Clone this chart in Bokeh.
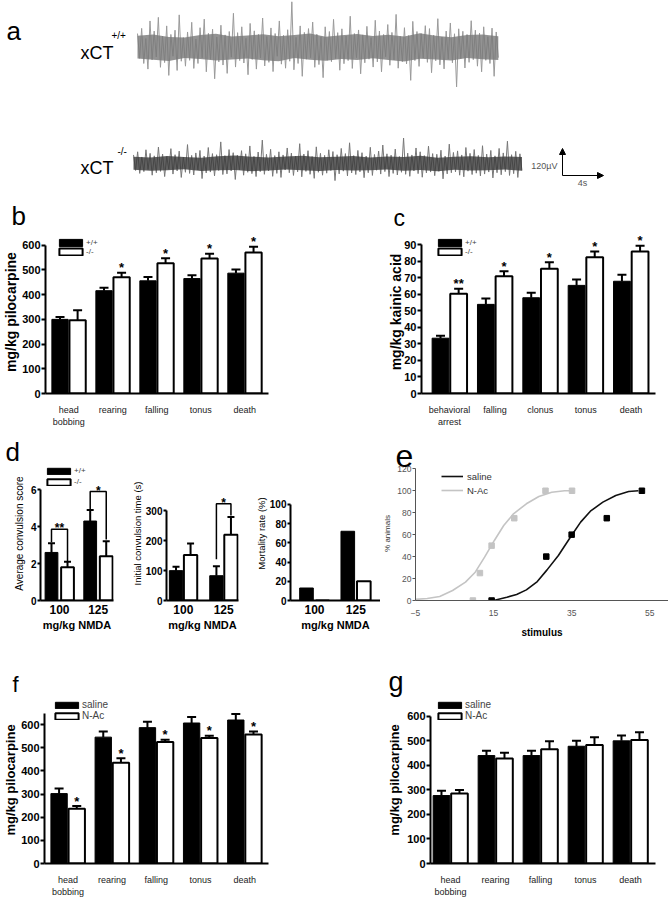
import math
from bokeh.plotting import figure
from bokeh.models import (Range1d, FixedTicker, Legend, LegendItem, Whisker, Title,
                          TeeHead, ColumnDataSource, Arrow, NormalHead)
from bokeh.layouts import column, row
from bokeh.embed import file_html
from bokeh.resources import INLINE
from bokeh.core.properties import value

FONT = "Liberation Sans"

# ---------------------------------------------------------------- data
# (a) EEG traces: successive deflections (µV) and the dense core band (µV)
a_wt_peaks = [62, -48, 85, -71, 40, -96, 118, -55, 73, -42, 134, -88, 51, -67, 96, -124, 58,
              -39, 77, -102, 145, -61, 44, -83, 69, -57, 112, -93, 38, -71, 88, -46, 126, -108,
              63, -52, 81, -139, 47, -64, 99, -78, 56, -115, 71, -43, 152, -87, 66, -58, 92,
              -69, 41, -121, 107, -53, 74, -96, 58, -47, 131, -82, 49, -66, 87, -107, 62, -39,
              118, -74, 54, -92, 79, -61, 203, -99, 45, -71, 96, -128, 67, -52, 84, -45, 113,
              -88, 59, -76, 48, -134, 92, -57, 71, -63, 125, -49, 66, -101, 83, -72, 51, -58,
              139, -93, 62, -45, 78, -117, 56, -68, 94, -52, 44, -87, 121, -64, 73, -108, 58,
              -41, 102, -79, 67, -55, 147, -92, 49, -63, 88, -73, 53, -146, 116, -58, 71, -84,
              62, -47, 97, -66, 84, -112, 55, -59, 128, -77, 46, -95, 73, -52, 109, -68, 61,
              -175, 83, -49, 72, -91, 58, -66, 119, -54, 77, -83, 64, -108, 92, -57, 48, -71,
              86, -128, 69, -45]
a_wt_core_hi = [52, 58, 47, 44, 56, 61, 49, 53, 59, 50, 55, 62, 48, 54, 60, 51, 57, 49, 63, 52,
                46, 55, 58, 50]
a_wt_core_lo = [-49, -54, -60, -47, -51, -58, -53, -49, -57, -61, -47, -54, -59, -51, -56, -48,
                -55, -62, -50, -53, -58, -47, -52, -55]
a_wt_seconds = 35.2
a_ko_peaks = [38, -31, 52, -44, 29, -36, 61, -27, 45, -52, 34, -41, 73, -35, 42, -58, 31, -26,
              66, -47, 39, -33, 55, -62, 28, -39, 84, -44, 36, -51, 47, -29, 58, -67, 33, -42,
              71, -38, 44, -55, 39, -31, 96, -49, 35, -46, 62, -33, 48, -71, 37, -28, 57, -52,
              43, -39, 78, -45, 32, -58, 51, -36, 104, -48, 41, -33, 63, -57, 35, -44, 52, -62,
              38, -29, 69, -41, 46, -53, 33, -37, 88, -59, 42, -35, 57, -48, 31, -66, 74, -39,
              45, -52, 36, -43, 61, -31, 53, -76, 39, -46, 67, -34, 44, -55, 92, -42, 35, -49,
              58, -37, 48, -63, 33, -41, 72, -53, 40, -30, 55, -47, 82, -36, 43, -58, 37, -44,
              64, -51, 31, -39, 113, -48, 46, -57, 38, -33, 69, -45, 52, -61, 35, -42, 77, -38,
              44, -54, 41, -35, 59, -68, 33, -46, 86, -41, 49, -37, 56, -52, 38, -59, 71, -34,
              45, -49, 62, -43, 36, -55, 79, -47, 42, -38, 58, -64, 34, -41, 67, -50, 47, -36,
              99, -53, 39, -45, 54, -62, 43, -31]
a_ko_core_hi = [30, 27, 33, 29, 25, 32, 35, 30, 27, 31, 34, 28, 30, 33, 27, 31, 29, 34, 26, 30,
                32, 28, 31, 29]
a_ko_core_lo = [-28, -32, -30, -26, -33, -30, -29, -34, -31, -27, -30, -33, -29, -31, -30, -27,
                -32, -29, -34, -28, -31, -30, -27, -32]
a_ko_seconds = 37.9
a_scale_uv = 120
a_scale_s = 4

# (b) pilocarpine, xCT +/+ vs -/-
b_categories = ["head\nbobbing", "rearing", "falling", "tonus", "death"]
b_wt = [300, 416, 456, 465, 487]
b_wt_err = [310, 428, 471, 479, 502]
b_ko = [296, 470, 527, 546, 571]
b_ko_err = [337, 489, 547, 566, 594]
b_ko_sig = ["", "*", "*", "*", "*"]
b_yticks = [0, 100, 200, 300, 400, 500, 600]

# (c) kainic acid
c_categories = ["behavioral\narrest", "falling", "clonus", "tonus", "death"]
c_wt = [33.5, 54, 58, 65.5, 68]
c_wt_err = [35, 57.5, 61, 69, 72]
c_ko = [60.5, 71, 75.5, 82.5, 86]
c_ko_err = [63.5, 74, 79.5, 86, 89.5]
c_ko_sig = ["**", "*", "*", "*", "*"]
c_yticks = [0, 10, 20, 30, 40, 50, 60, 70, 80, 90]

# (d) NMDA
d_doses = ["100", "125"]
d_score_wt = [2.6, 4.3]
d_score_wt_err = [3.1, 4.9]
d_score_ko = [1.8, 2.4]
d_score_ko_err = [2.1, 3.2]
d_score_brackets = [(1, "**", 3.85, 3.15, 2.1), (2, "*", 5.9, 4.95, 3.3)]
d_score_yticks = [0, 2, 4, 6]
d_time_wt = [100, 83]
d_time_wt_err = [113, 115]
d_time_ko = [152, 220]
d_time_ko_err = [191, 280]
d_time_brackets = [(2, "*", 324, 138, 285)]
d_time_yticks = [0, 100, 200, 300]
d_mort_wt = [13, 72]
d_mort_ko = [0, 20]
d_mort_yticks = [0, 20, 40, 60, 80, 100]

# (e) cumulative % animals vs stimulus
e_saline_x = [14.5, 28.5, 35, 44, 53]
e_saline_y = [0, 40, 60, 75, 100]
e_nac_x = [9.7, 11.5, 14.5, 20.3, 28.3, 35.1]
e_nac_y = [0, 25, 50, 75, 100, 100]
e_saline_fit_x = [15.0, 18.4, 20.9, 23.4, 26.2, 28.7, 31.6, 34.8, 37.3, 39.8, 43.0, 46.3, 49.6,
                  52.1]
e_saline_fit_y = [0, 3, 5.5, 9.7, 17.3, 27.9, 41, 58.3, 71.4, 81.4, 89.6, 95.7, 99.3, 100]
e_nac_fit_x = [-5.0, -2.0, 1.2, 4.5, 7.8, 10.3, 12.7, 15.2, 17.6, 20.1, 23.4, 26.6, 29.9, 33.2,
               35.1]
e_nac_fit_y = [1.0, 1.8, 3.6, 9.1, 16.7, 25.8, 39.5, 54.7, 68.3, 79, 88.1, 94.8, 98.7, 100, 100]
e_xticks = [-5, 15, 35, 55]
e_yticks = [0, 20, 40, 60, 80, 100, 120]

# (f) pilocarpine, saline vs N-Ac (xCT +/+)
f_saline = [302, 546, 587, 607, 620]
f_saline_err = [324, 570, 612, 633, 646]
f_nac = [237, 435, 525, 542, 557]
f_nac_err = [248, 455, 535, 552, 570]
f_nac_sig = ["*", "*", "*", "*", "*"]
f_yticks = [0, 100, 200, 300, 400, 500, 600]

# (g) pilocarpine, saline vs N-Ac (xCT -/-)
g_saline = [277, 440, 440, 478, 500]
g_saline_err = [297, 460, 460, 500, 522]
g_nac = [285, 428, 466, 483, 503]
g_nac_err = [300, 452, 498, 515, 535]
g_yticks = [0, 100, 200, 300, 400, 500, 600]


# ---------------------------------------------------------------- helpers
def make_fig(box, frame_x, frame_top, frame_bottom, x_range, px_per_unit):
    x0, y0, x1, y1 = box
    fl, fr = frame_x
    p = figure(width=x1 - x0, height=y1 - y0,
               x_range=Range1d(*x_range),
               y_range=Range1d(0, (frame_bottom - frame_top) / px_per_unit),
               output_backend="svg", toolbar_location=None, title=None,
               min_border_left=fl - x0, min_border_right=x1 - fr,
               min_border_top=frame_top - y0, min_border_bottom=y1 - frame_bottom)
    p.outline_line_color = None
    p.grid.visible = False
    p.background_fill_color = "white"
    p.border_fill_color = "white"
    return p


def panel_letter(p, letter, size, offset):
    p.title = Title(text=letter, align="left", offset=offset, vertical_align="bottom",
                    standoff=0, text_font=FONT, text_font_size=f"{size}px",
                    text_font_style="normal", text_color="black")


def style_axis(ax, size, bold, color="black", width=2, tick_out=5, standoff=2):
    ax.axis_line_width = width
    ax.axis_line_color = color
    ax.major_tick_line_width = width
    ax.major_tick_line_color = color
    ax.major_tick_out = tick_out
    ax.major_tick_in = 0
    ax.minor_tick_line_color = None
    ax.major_label_text_font = FONT
    ax.major_label_text_font_size = f"{size}px"
    ax.major_label_text_font_style = "bold" if bold else "normal"
    ax.major_label_text_color = color
    ax.major_label_standoff = standoff


def axis_title(ax, text, size, bold, standoff, color="black"):
    ax.axis_label = text
    ax.axis_label_text_font = FONT
    ax.axis_label_text_font_size = f"{size}px"
    ax.axis_label_text_font_style = "bold" if bold else "normal"
    ax.axis_label_text_color = color
    ax.axis_label_standoff = standoff


def bar_panel(box, frame_x, ft, fb, xr, k, cats, a_vals, a_err, b_vals, b_err, sig,
              names, yticks, ybound, bw, off, cap, ytick_size, ytick_out, cat_size, cat_bold,
              cat_standoff, legend_at=None, legend_font=8, legend_gh=9, legend_lh=9,
              star_size=13):
    p = make_fig(box, frame_x, ft, fb, xr, k)
    xs = list(range(1, len(cats) + 1))
    xa = [x - off for x in xs]
    xb = [x + off for x in xs]
    ra = p.vbar(x=xa, top=a_vals, width=bw, bottom=0, fill_color="black",
                line_color="black", line_width=1)
    rb = p.vbar(x=xb, top=b_vals, width=bw, bottom=0, fill_color="white",
                line_color="black", line_width=2)
    if a_err is not None:
        for xv, lo, hi in ((xa, a_vals, a_err), (xb, b_vals, b_err)):
            src = ColumnDataSource(dict(base=xv, lower=lo, upper=hi))
            p.add_layout(Whisker(source=src, base="base", lower="lower", upper="upper",
                                 line_width=2, line_color="black",
                                 upper_head=TeeHead(size=cap, line_width=2, line_color="black"),
                                 lower_head=None))
    if sig is not None:
        p.text(x=xb, y=[e + 5 / k for e in b_err], text=sig, text_align="center",
               text_baseline="alphabetic", text_font=value(FONT), text_font_style="bold",
               text_font_size=f"{star_size}px", text_color="black")
    yax = p.yaxis[0]
    yax.ticker = FixedTicker(ticks=yticks)
    yax.bounds = ybound
    style_axis(yax, ytick_size, True, tick_out=ytick_out, standoff=1)
    xax = p.xaxis[0]
    xax.ticker = FixedTicker(ticks=xs)
    xax.major_label_overrides = {x: c for x, c in zip(xs, cats)}
    style_axis(xax, cat_size, cat_bold, tick_out=0, standoff=cat_standoff)
    xax.major_tick_line_color = None
    if not cat_bold:
        xax.major_label_text_color = "#222222"
    if legend_at is not None:
        leg = Legend(items=[LegendItem(label=names[0], renderers=[ra]),
                            LegendItem(label=names[1], renderers=[rb])],
                     location=legend_at, orientation="vertical",
                     glyph_width=29, glyph_height=legend_gh, label_height=legend_lh,
                     label_width=10, label_standoff=1, spacing=0, padding=0, margin=0,
                     border_line_color=None, background_fill_alpha=0,
                     label_text_font=FONT, label_text_font_size=f"{legend_font}px",
                     label_text_baseline="middle")
        p.add_layout(leg)
    return p, xa, xb


def brackets(p, k, xa, xb, items, size):
    for g, lab, yb, yl, yr in items:
        x0, x1 = xa[g - 1], xb[g - 1]
        p.line(x=[x0, x0, x1, x1], y=[yl, yb, yb, yr], line_color="black", line_width=1.5)
        p.text(x=[(x0 + x1) / 2], y=[yb + 1 / k], text=[lab], text_align="center",
               text_baseline="alphabetic", text_font=value(FONT), text_font_style="bold",
               text_font_size=f"{size}px", text_color="black")


# ---------------------------------------------------------------- panel a
PX_PER_S = 10.25
UV_PER_PX = 4.444
A_W, A_H = 668, 198
pa = figure(width=A_W, height=A_H, x_range=Range1d(-133 / PX_PER_S, (A_W - 133) / PX_PER_S),
            y_range=Range1d(0, A_H * UV_PER_PX), x_axis_type=None, y_axis_type=None,
            output_backend="svg", toolbar_location=None, title=None, min_border=0)
pa.outline_line_color = None
pa.grid.visible = False


def t_at(px):
    return (px - 133) / PX_PER_S


def uv_at(py):
    return (A_H - py) * UV_PER_PX


def trace(peaks, hi, lo, seconds, t0, base, spike_col, core_col):
    n = len(peaks)
    tx = [t0 + i * seconds / (n - 1) for i in range(n)]
    pa.line(x=tx, y=[base + v for v in peaks], line_color=spike_col, line_width=1.0)
    m = len(hi)
    tc = [t0 + i * seconds / (m - 1) for i in range(m)]
    pa.varea(x=tc, y1=[base + v for v in lo], y2=[base + v for v in hi],
             fill_color=core_col, fill_alpha=0.8)


trace(a_wt_peaks, a_wt_core_hi, a_wt_core_lo, a_wt_seconds, t_at(137), uv_at(47),
      "#9a9a9a", "#787878")
trace(a_ko_peaks, a_ko_core_hi, a_ko_core_lo, a_ko_seconds, t_at(133), uv_at(163),
      "#777777", "#3a3a3a")


def atext(px, py, txt, size, color="black", align="left", baseline="alphabetic"):
    pa.text(x=[t_at(px)], y=[uv_at(py)], text=[txt], text_font=value(FONT),
            text_font_size=f"{size}px", text_color=color, text_align=align,
            text_baseline=baseline)


atext(6, 30, "a", 26)
atext(80, 52, "xCT", 18)
atext(111, 35, "+/+", 10)
atext(80, 167, "xCT", 18)
atext(117, 151, "-/-", 10)
bar_t = t_at(562)
bar_uv = uv_at(175)
pa.add_layout(Arrow(end=NormalHead(size=6, fill_color="black", line_color="black"),
                    x_start=bar_t, y_start=bar_uv, x_end=bar_t, y_end=bar_uv + a_scale_uv,
                    line_width=1, line_color="black"))
pa.add_layout(Arrow(end=NormalHead(size=6, fill_color="black", line_color="black"),
                    x_start=bar_t, y_start=bar_uv, x_end=bar_t + a_scale_s, y_end=bar_uv,
                    line_width=1, line_color="black"))
atext(557, 165, f"{a_scale_uv}µV", 9, color="#555555", align="right", baseline="middle")
atext(582, 182, f"{a_scale_s}s", 9, color="#555555", align="center", baseline="middle")

# ---------------------------------------------------------------- panel b
kb = 151 / 600
pb, _, _ = bar_panel((0, 198, 334, 430), (39, 268), 227, 393, (0.47, 5.54), kb, b_categories,
                     b_wt, b_wt_err, b_ko, b_ko_err, b_ko_sig, ["+/+", "-/-"], b_yticks,
                     (0, 600), 0.37, 0.2, 9, 11, 4, 9, False, 11, legend_at=(11, 137))
panel_letter(pb, "b", 26, -34)
axis_title(pb.yaxis[0], "mg/kg pilocarpine", 14, True, 0)

# ---------------------------------------------------------------- panel c
kc = 151.3 / 90
pc, _, _ = bar_panel((334, 198, 668, 430), (421, 655), 227, 393, (0.381, 5.54), kc,
                     c_categories, c_wt, c_wt_err, c_ko, c_ko_err, c_ko_sig, ["+/+", "-/-"],
                     c_yticks, (0, 90), 0.37, 0.2, 9, 11, 4, 9, False, 11, legend_at=(14, 137))
panel_letter(pc, "c", 23, -28)
axis_title(pc.yaxis[0], "mg/kg kainic acid", 14, True, -3)

# ---------------------------------------------------------------- panel d
kd1 = 19.17
pd1, xa1, xb1 = bar_panel((0, 430, 128, 640), (40, 113), 463, 602, (0.509, 2.395), kd1,
                          d_doses, d_score_wt, d_score_wt_err, d_score_ko, d_score_ko_err, None,
                          ["+/+", "-/-"], d_score_yticks, (0, 6), 0.33, 0.207, 7, 10, 3, 12,
                          True, 4, legend_at=(4, 113), legend_gh=8, legend_lh=11)
brackets(pd1, kd1, xa1, xb1, d_score_brackets, 12)
panel_letter(pd1, "d", 26, -35)
axis_title(pd1.yaxis[0], "Average convulsion score", 10, False, 3)

kd2 = 115 / 300
pd2, xa2, xb2 = bar_panel((128, 430, 250, 640), (162, 238), 430, 602, (0.584, 2.367), kd2,
                          d_doses, d_time_wt, d_time_wt_err, d_time_ko, d_time_ko_err, None,
                          ["+/+", "-/-"], d_time_yticks, (0, 300), 0.33, 0.18, 7, 10, 3, 12,
                          True, 4)
brackets(pd2, kd2, xa2, xb2, d_time_brackets, 12)
axis_title(pd2.yaxis[0], "Initial convulsion time (s)", 9.5, False, 0)

kd3 = 123.4 / 100
pd3, _, _ = bar_panel((250, 430, 380, 640), (290, 380), 430, 602, (0.419, 2.598), kd3,
                      d_doses, d_mort_wt, None, d_mort_ko, None, None, ["+/+", "-/-"],
                      d_mort_yticks, (0, 100), 0.33, 0.194, 7, 10, 3, 12, True, 4)
axis_title(pd3.yaxis[0], "Mortality rate (%)", 9.5, False, 0)

for p in (pd1, pd2, pd3):
    p.yaxis[0].major_label_standoff = 1
    axis_title(p.xaxis[0], "mg/kg NMDA", 11, True, 2)

# ---------------------------------------------------------------- panel e
ke = 1.0975
pe = make_fig((380, 430, 668, 640), (412, 668), 466, 600, (-5, -5 + 256 / 3.95), ke)
r_sal = pe.line(x=e_saline_fit_x, y=e_saline_fit_y, line_color="#111111", line_width=1.6)
r_nac = pe.line(x=e_nac_fit_x, y=e_nac_fit_y, line_color="#c4c4c4", line_width=1.6)
pe.scatter(x=e_saline_x, y=e_saline_y, marker="square", size=5.5, fill_color="black",
           line_color="black")
pe.scatter(x=e_nac_x, y=e_nac_y, marker="square", size=5.5, fill_color="#c4c4c4",
           line_color="#c4c4c4")
yax = pe.yaxis[0]
yax.ticker = FixedTicker(ticks=e_yticks)
yax.bounds = (0, 120)
style_axis(yax, 8.5, False, color="#555555", width=1, tick_out=3, standoff=1)
axis_title(yax, "% animals", 8, False, 2, color="#333333")
xax = pe.xaxis[0]
xax.ticker = FixedTicker(ticks=e_xticks)
style_axis(xax, 8.5, False, color="#555555", width=1, tick_out=0, standoff=9)
axis_title(xax, "stimulus", 10, True, 8)
pe.add_layout(Legend(items=[LegendItem(label="saline", renderers=[r_sal]),
                            LegendItem(label="N-Ac", renderers=[r_nac])],
                     location=(26, 103), orientation="vertical", glyph_width=22,
                     glyph_height=14, label_height=14, label_standoff=4, spacing=0,
                     padding=0, margin=0, border_line_color=None, background_fill_alpha=0,
                     label_text_font=FONT, label_text_font_size="9.5px",
                     label_text_color="#333333", label_text_baseline="middle"))
panel_letter(pe, "e", 32, -20)

# ---------------------------------------------------------------- panel f
kf = 139.7 / 600
pf, _, _ = bar_panel((0, 640, 334, 899), (39, 268), 696, 864, (0.47, 5.54), kf, b_categories,
                     f_saline, f_saline_err, f_nac, f_nac_err, f_nac_sig, ["saline", "N-Ac"],
                     f_yticks, (0, 650), 0.37, 0.2, 9, 11, 4, 9, False, 11,
                     legend_at=(8, 142), legend_font=10, legend_gh=8, legend_lh=11)
panel_letter(pf, "f", 22, -32)
axis_title(pf.yaxis[0], "mg/kg pilocarpine", 13, True, 0)

# ---------------------------------------------------------------- panel g
kg = 150.7 / 600
pg, _, _ = bar_panel((334, 640, 668, 899), (430, 655), 693, 864, (0.556, 5.556), kg,
                     b_categories, g_saline, g_saline_err, g_nac, g_nac_err, None,
                     ["saline", "N-Ac"], g_yticks, (0, 600), 0.37, 0.2, 9, 11, 4, 9, False,
                     11, legend_at=(5, 142), legend_font=10, legend_gh=8, legend_lh=11)
panel_letter(pg, "g", 27, -42)
axis_title(pg.yaxis[0], "mg/kg pilocarpine", 13, True, 2)

layout = column(pa, row(pb, pc), row(pd1, pd2, pd3, pe), row(pf, pg))
open("out.html", "w").write(file_html(layout, INLINE))
